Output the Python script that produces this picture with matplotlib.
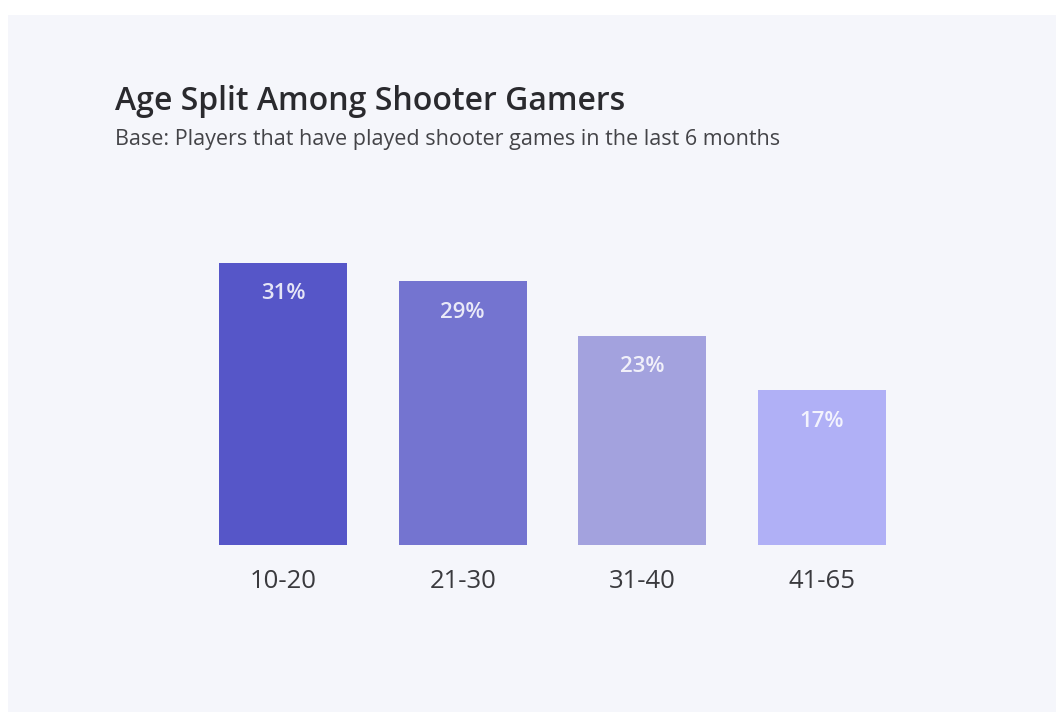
import matplotlib
matplotlib.use("Agg")
import matplotlib.pyplot as plt

categories = ["10-20", "21-30", "31-40", "41-65"]
values = [31, 29, 23, 17]
value_labels = ["31%", "29%", "23%", "17%"]
bar_colors = ["#5656c8", "#7474d0", "#a3a2de", "#b0b0f6"]

title = "Age Split Among Shooter Gamers"
subtitle = "Base: Players that have played shooter games in the last 6 months"

W, H = 1062, 717
fig = plt.figure(figsize=(W / 100, H / 100), dpi=100)
fig.patch.set_facecolor("#ffffff")

# card background
card = plt.Rectangle((8 / W, 5 / H), (W - 14) / W, (H - 20) / H,
                     transform=fig.transFigure, facecolor="#f5f6fb",
                     edgecolor="none", zorder=-5)
fig.patches.append(card)

font = "Open Sans"

# axes placement
left_px, right_px = 200, 905
bottom_px = 545
top_px = 545 - 35 * 9.1
ax = fig.add_axes([left_px / W, (H - bottom_px) / H,
                   (right_px - left_px) / W, (bottom_px - top_px) / H])
ax.set_zorder(2)
ax.set_facecolor("none")
xpos = list(range(len(categories)))
bars = ax.bar(xpos, values, width=0.713, color=bar_colors, zorder=2)
ax.set_xlim((left_px - 283) / 179.7, (right_px - 283) / 179.7)
ax.set_ylim(0, 35)

for x, v, lab in zip(xpos, values, value_labels):
    ax.annotate(lab, (x, v), xytext=(0, -31), textcoords="offset pixels",
                ha="center", va="center", color="#ffffff", alpha=0.85,
                fontsize=16, family=font, fontweight="semibold")

ax.set_xticks(xpos)
ax.set_xticklabels(categories, fontsize=18.5, family=font, color="#3a3a3e")
ax.tick_params(axis="x", length=0, pad=17)
ax.set_yticks([])
for s in ax.spines.values():
    s.set_visible(False)

fig.text(115 / W, 1 - 101 / H, title, fontsize=23, family=font,
         fontweight="semibold", color="#2a2a2e", ha="left", va="center")
fig.text(115 / W, 1 - 139 / H, subtitle, fontsize=15.5, family=font,
         color="#444448", ha="left", va="center")

fig.savefig("out.png", dpi=100, facecolor=fig.get_facecolor())
